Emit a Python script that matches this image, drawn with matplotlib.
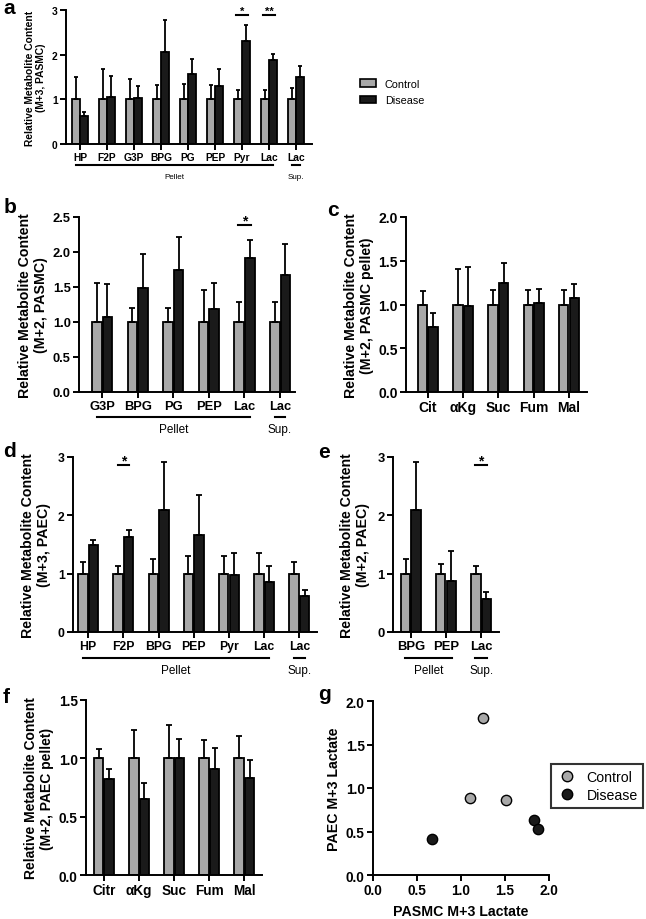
import numpy as np
import matplotlib
matplotlib.use('Agg')
import matplotlib.pyplot as plt
from matplotlib.patches import Patch
from matplotlib.lines import Line2D
from matplotlib.transforms import blended_transform_factory

plt.rcParams['font.family'] = ['Liberation Sans', 'DejaVu Sans']

# --- DATA ---
a_labels = ['HP', 'F2P', 'G3P', 'BPG', 'PG', 'PEP', 'Pyr', 'Lac', 'Lac']
a_ctrl = [1, 1, 1, 1, 1, 1, 1, 1, 1]
a_ctrl_err = [0.50, 0.67, 0.45, 0.32, 0.35, 0.33, 0.20, 0.20, 0.25]
a_dis = [0.62, 1.05, 1.03, 2.05, 1.56, 1.30, 2.30, 1.88, 1.49]
a_dis_err = [0.10, 0.47, 0.27, 0.72, 0.34, 0.38, 0.37, 0.14, 0.25]

b_labels = ['G3P', 'BPG', 'PG', 'PEP', 'Lac', 'Lac']
b_ctrl = [1, 1, 1, 1, 1, 1]
b_ctrl_err = [0.56, 0.20, 0.20, 0.46, 0.28, 0.28]
b_dis = [1.07, 1.49, 1.74, 1.19, 1.92, 1.67]
b_dis_err = [0.47, 0.48, 0.47, 0.37, 0.25, 0.44]

c_labels = ['Cit', 'αKg', 'Suc', 'Fum', 'Mal']
c_ctrl = [1, 1, 1, 1, 1]
c_ctrl_err = [0.15, 0.41, 0.17, 0.17, 0.17]
c_dis = [0.74, 0.98, 1.25, 1.02, 1.08]
c_dis_err = [0.16, 0.45, 0.22, 0.16, 0.15]

d_labels = ['HP', 'F2P', 'BPG', 'PEP', 'Pyr', 'Lac', 'Lac']
d_ctrl = [1, 1, 1, 1, 1, 1, 1]
d_ctrl_err = [0.20, 0.13, 0.25, 0.31, 0.30, 0.35, 0.20]
d_dis = [1.49, 1.63, 2.09, 1.66, 0.98, 0.85, 0.61]
d_dis_err = [0.08, 0.12, 0.82, 0.69, 0.37, 0.29, 0.11]

e_labels = ['BPG', 'PEP', 'Lac']
e_ctrl = [1, 1, 1]
e_ctrl_err = [0.25, 0.16, 0.13]
e_dis = [2.09, 0.88, 0.57]
e_dis_err = [0.82, 0.51, 0.12]

f_labels = ['Citr', 'αKg', 'Suc', 'Fum', 'Mal']
f_ctrl = [1, 1, 1, 1, 1]
f_ctrl_err = [0.08, 0.24, 0.29, 0.16, 0.19]
f_dis = [0.82, 0.65, 1.00, 0.91, 0.83]
f_dis_err = [0.09, 0.14, 0.17, 0.18, 0.16]

g_ctrl_x = [1.25, 1.10, 1.51]
g_ctrl_y = [1.80, 0.89, 0.86]
g_dis_x = [0.67, 1.83, 1.88]
g_dis_y = [0.41, 0.63, 0.53]

GRAY = '#a8a8a8'
DARK = '#1a1a1a'
W, H = 646, 920

fig = plt.figure(figsize=(W / 100, H / 100), dpi=100)


def px_axes(left, top, right, bottom):
    return fig.add_axes([left / W, 1 - bottom / H, (right - left) / W, (bottom - top) / H])


def style(ax, fs, yticks, fmt):
    for s in ['top', 'right']:
        ax.spines[s].set_visible(False)
    for s in ['left', 'bottom']:
        ax.spines[s].set_linewidth(1.4)
    ax.tick_params(width=1.4, length=4, labelsize=fs, pad=2)
    ax.set_yticks(yticks)
    ax.set_yticklabels([fmt.format(v) for v in yticks], fontweight='bold')
    ax.set_ylim(yticks[0], yticks[-1])


def bar_panel(ax, labels, ctrl, ctrl_err, dis, dis_err, off, width, fs, cap):
    x = np.arange(len(labels))
    ekw = dict(lw=1.3, capthick=1.3, ecolor='black')
    ax.bar(x - off, ctrl, width, color=GRAY, edgecolor='black', linewidth=1.3,
           yerr=[np.zeros(len(x)), ctrl_err], capsize=cap, error_kw=ekw)
    ax.bar(x + off, dis, width, color=DARK, edgecolor='black', linewidth=1.3,
           yerr=[np.zeros(len(x)), dis_err], capsize=cap, error_kw=ekw)
    ax.set_xticks(x)
    ax.set_xticklabels(labels, fontweight='bold', fontsize=fs)
    ax.tick_params(axis='x', length=3)


def underline(ax, i0, i1, half, y_px, lw=1.5):
    ax_h = ax.get_position().height * H
    tr = blended_transform_factory(ax.transData, ax.transAxes)
    y = -y_px / ax_h
    ax.plot([i0 - half, i1 + half], [y, y], color='black', lw=lw, transform=tr, clip_on=False)
    return tr, y


def groups(ax, pellet, sup, half, y_px, text_px, fs):
    tr, y = underline(ax, pellet[0], pellet[1], half, y_px)
    ax_h = ax.get_position().height * H
    ty = -text_px / ax_h
    ax.text((pellet[0] + pellet[1]) / 2, ty, 'Pellet', transform=tr, ha='center', va='top', fontsize=fs)
    underline(ax, sup, sup, half, y_px)
    ax.text(sup, ty, 'Sup.', transform=tr, ha='center', va='top', fontsize=fs)


def star(ax, i, y, half, txt, fs):
    ax.plot([i - half, i + half], [y, y], color='black', lw=1.5, clip_on=False)
    ax.annotate(txt, (i, y), xytext=(0, 3), textcoords='offset points', ha='center', va='center',
                fontsize=fs, fontweight='bold')


YLAB = 'Relative Metabolite Content\n'

# --- a ---
ax = px_axes(66, 11, 312, 145)
bar_panel(ax, a_labels, a_ctrl, a_ctrl_err, a_dis, a_dis_err, 0.155, 0.3, 7.4, 1.6)
ax.set_xlim(-0.52, 8.59)
style(ax, 7.4, [0, 1, 2, 3], '{:.0f}')
ax.set_ylabel(YLAB + '(M+3, PASMC)', fontsize=7.4, fontweight='bold', labelpad=4)
groups(ax, (0, 7), 8, 0.16, 21, 29, 5.8)
star(ax, 6, 2.89, 0.23, '*', 8)
star(ax, 7, 2.89, 0.23, '**', 8)
fig.legend(handles=[Patch(facecolor=GRAY, edgecolor='black', lw=1.2, label='Control'),
                    Patch(facecolor=DARK, edgecolor='black', lw=1.2, label='Disease')],
           loc='upper left', bbox_to_anchor=(350 / W, 1 - 70 / H), frameon=False,
           fontsize=7.8, handlelength=1.5, handleheight=0.7, labelspacing=0.6, handletextpad=0.8)

# --- b ---
ax = px_axes(79, 218, 295, 393)
bar_panel(ax, b_labels, b_ctrl, b_ctrl_err, b_dis, b_dis_err, 0.15, 0.27, 9.3, 2)
ax.set_xlim(-0.65, 5.42)
style(ax, 9.3, [0, 0.5, 1.0, 1.5, 2.0, 2.5], '{:.1f}')
ax.set_ylabel(YLAB + '(M+2, PASMC)', fontsize=10.2, fontweight='bold', labelpad=3)
groups(ax, (0, 4), 5, 0.15, 25, 31, 8.5)
star(ax, 4, 2.39, 0.17, '*', 10)

# --- c ---
ax = px_axes(406, 218, 587, 393)
bar_panel(ax, c_labels, c_ctrl, c_ctrl_err, c_dis, c_dis_err, 0.15, 0.27, 10, 2)
ax.set_xlim(-0.62, 4.51)
style(ax, 10, [0, 0.5, 1.0, 1.5, 2.0], '{:.1f}')
ax.set_ylabel(YLAB + '(M+2, PASMC pellet)', fontsize=10.2, fontweight='bold', labelpad=3)

# --- d ---
ax = px_axes(73, 458, 317, 633)
bar_panel(ax, d_labels, d_ctrl, d_ctrl_err, d_dis, d_dis_err, 0.15, 0.27, 8.8, 2)
ax.set_xlim(-0.43, 6.5)
style(ax, 8.8, [0, 1, 2, 3], '{:.0f}')
ax.set_ylabel(YLAB + '(M+3, PAEC)', fontsize=10.2, fontweight='bold', labelpad=5)
groups(ax, (0, 5), 6, 0.15, 26, 32, 8.5)
star(ax, 1, 2.87, 0.16, '*', 10)

# --- e ---
ax = px_axes(393, 458, 499, 633)
bar_panel(ax, e_labels, e_ctrl, e_ctrl_err, e_dis, e_dis_err, 0.15, 0.27, 9.4, 2)
ax.set_xlim(-0.51, 2.51)
style(ax, 9.4, [0, 1, 2, 3], '{:.0f}')
ax.set_ylabel(YLAB + '(M+2, PAEC)', fontsize=10.2, fontweight='bold', labelpad=5)
groups(ax, (0, 1), 2, 0.17, 26, 32, 8.5)
star(ax, 2, 2.87, 0.17, '*', 10)

# --- f ---
ax = px_axes(86, 701, 262, 876)
bar_panel(ax, f_labels, f_ctrl, f_ctrl_err, f_dis, f_dis_err, 0.15, 0.27, 9.8, 2)
ax.set_xlim(-0.51, 4.5)
style(ax, 9.8, [0, 0.5, 1.0, 1.5], '{:.1f}')
ax.set_ylabel(YLAB + '(M+2, PAEC pellet)', fontsize=10, fontweight='bold', labelpad=3)

# --- g ---
ax = px_axes(373, 702, 549, 876)
ax.scatter(g_ctrl_x, g_ctrl_y, s=55, color=GRAY, edgecolor='black', lw=1.0, zorder=3, clip_on=False)
ax.scatter(g_dis_x, g_dis_y, s=55, color=DARK, edgecolor='black', lw=1.0, zorder=3, clip_on=False)
ticks = [0, 0.5, 1.0, 1.5, 2.0]
style(ax, 9.8, ticks, '{:.1f}')
ax.set_xticks(ticks)
ax.set_xticklabels(['{:.1f}'.format(v) for v in ticks], fontweight='bold')
ax.set_xlim(0, 2.0)
ax.set_xlabel('PASMC M+3 Lactate', fontsize=10.2, fontweight='bold', labelpad=5)
ax.set_ylabel('PAEC M+3 Lactate', fontsize=10.2, fontweight='bold', labelpad=3)
leg = ax.legend(handles=[Line2D([], [], marker='o', ls='none', ms=7.5, mfc=GRAY, mec='black', label='Control'),
                         Line2D([], [], marker='o', ls='none', ms=7.5, mfc=DARK, mec='black', label='Disease')],
                loc='upper left', bbox_to_anchor=(551 / W, 1 - 765 / H), bbox_transform=fig.transFigure,
                fontsize=10.2, frameon=True, fancybox=False, borderaxespad=0, handletextpad=0.6,
                handlelength=1.5, labelspacing=0.3, borderpad=0.4)
leg.get_frame().set_edgecolor('black')
leg.get_frame().set_linewidth(1.5)

# --- panel letters ---
for lbl, x, y in [('a', 3, 14), ('b', 4, 213), ('c', 327, 216), ('d', 3, 457),
                  ('e', 318, 458), ('f', 3, 703), ('g', 318, 700)]:
    fig.text(x / W, 1 - y / H, lbl, fontsize=15, fontweight='bold', va='baseline')

fig.savefig('out.png', dpi=100)
